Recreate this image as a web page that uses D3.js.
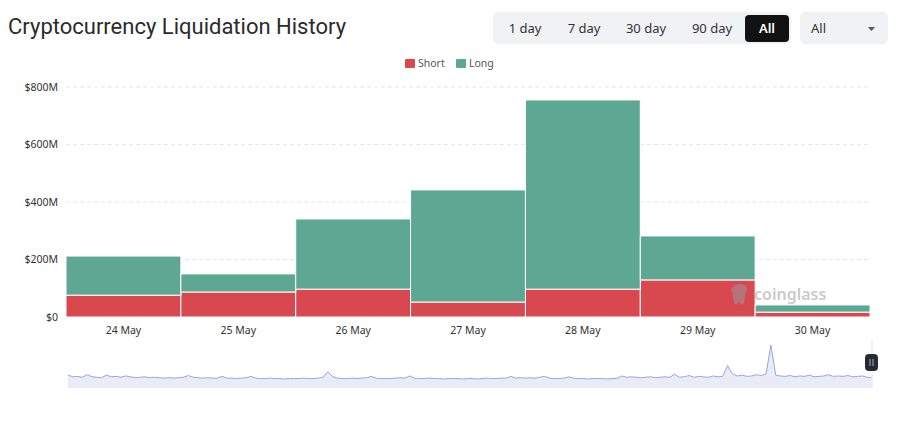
<!DOCTYPE html>
<html><head><meta charset="utf-8">
<script src="https://cdn.jsdelivr.net/npm/d3@7"></script>
<style>
html,body{margin:0;padding:0;background:#fff;}
svg{display:block;font-family:"Noto Sans","Open Sans",sans-serif;}
</style></head>
<body>
<svg id="c" width="900" height="425"></svg>
<script>
const categories = ["24 May","25 May","26 May","27 May","28 May","29 May","30 May"];
const shortValues = [76, 87, 97, 52, 97, 129, 17];   // $M
const longValues  = [136, 63, 244, 390, 658, 153, 25]; // $M (stacked on short)
const yTicks = [0, 200, 400, 600, 800];
const yTickLabels = ["$0","$200M","$400M","$600M","$800M"];
const rangeButtons = ["1 day","7 day","30 day","90 day","All"];
const legendItems = ["Short","Long"];
// hourly overview sparkline in the zoom slider (relative units)
const overview = [30,26,27,25,31,26,25,24,30,26,27,25,28,26,24,25,26,24,25,24,
23,24,23,24,25,29,25,24,23,24,23,23,27,23,23,22,23,24,27,23,
22,22,23,22,22,21,22,22,22,23,22,22,23,25,38,26,23,22,22,23,
22,23,24,27,23,22,22,22,23,24,23,28,23,22,22,23,22,22,21,22,
22,22,21,22,22,21,22,23,22,22,23,23,27,23,24,23,24,23,25,27,
23,22,22,23,26,23,22,22,21,22,22,22,21,22,22,28,25,26,25,24,
25,26,24,25,26,25,32,25,26,29,25,27,26,25,28,26,27,52,33,28,
30,27,28,31,29,33,100,30,28,27,29,26,28,27,30,26,27,28,31,27,
28,27,29,26,27,28,25,24];

const RED = "#d8494f", GREEN = "#5ea893";
const svg = d3.select("#c");

// Title
svg.append("text").attr("x",8).attr("y",34).attr("font-size",22).attr("fill","#2b2b2b")
  .attr("font-family","Roboto, sans-serif")
  .text("Cryptocurrency Liquidation History");

// Range buttons
const bg = svg.append("g");
bg.append("rect").attr("x",493).attr("y",12).attr("width",298).attr("height",32).attr("rx",5).attr("fill","#f1f2f4");
const btnCenters = [525, 584, 646, 712, 767];
bg.append("rect").attr("x",745).attr("y",15).attr("width",44).attr("height",27).attr("rx",4).attr("fill","#121212");
rangeButtons.forEach((b,i)=>{
  bg.append("text").attr("x",btnCenters[i]).attr("y",33).attr("text-anchor","middle")
    .attr("font-size",13).attr("fill", i===4 ? "#fff" : "#333").attr("font-weight", i===4?600:400).text(b);
});
bg.append("rect").attr("x",800).attr("y",12).attr("width",88).attr("height",32).attr("rx",5).attr("fill","#f1f2f4");
bg.append("text").attr("x",811).attr("y",33).attr("font-size",13).attr("fill","#333").text("All");
bg.append("path").attr("d","M868,27 L875,27 L871.5,31 Z").attr("fill","#555");

// Legend
const lg = svg.append("g");
[[405,RED,legendItems[0]],[456,GREEN,legendItems[1]]].forEach(([x,c,t])=>{
  lg.append("rect").attr("x",x).attr("y",59).attr("width",10).attr("height",9).attr("rx",1).attr("fill",c);
  lg.append("text").attr("x",x+13).attr("y",67).attr("font-size",10.5).attr("fill","#555").text(t);
});

// Scales
const x = d3.scaleBand().domain(categories).range([66,870]).padding(0);
const y = d3.scaleLinear().domain([0,800]).range([317,87]);

// Grid
svg.append("g").selectAll("line").data(yTicks.slice(1)).join("line")
  .attr("x1",66).attr("x2",870).attr("y1",d=>y(d)).attr("y2",d=>y(d))
  .attr("stroke","#e6e6e6").attr("stroke-dasharray","4,3");

// Y axis
const yAxis = d3.axisLeft(y).tickValues(yTicks).tickFormat((d,i)=>yTickLabels[i]).tickSize(0).tickPadding(8);
const ya = svg.append("g").attr("transform","translate(66,0)").call(yAxis);
ya.select(".domain").remove();
ya.selectAll("text").attr("font-size",10.5).attr("fill","#333").attr("font-family","Noto Sans, sans-serif");

// Bars
const data = categories.map((c,i)=>({c, s:shortValues[i], l:longValues[i]}));
const stack = d3.stack().keys(["s","l"])(data);
const colors = {s:RED, l:GREEN};
svg.append("g").selectAll("g").data(stack).join("g").attr("fill",d=>colors[d.key])
  .selectAll("rect").data(d=>d).join("rect")
  .attr("x",d=>x(d.data.c)).attr("width",x.bandwidth())
  .attr("y",d=>y(d[1])).attr("height",d=>y(d[0])-y(d[1]))
  .attr("stroke","#fff").attr("stroke-width",1);

// X axis
const xAxis = d3.axisBottom(x).tickSize(0).tickPadding(9);
const xa = svg.append("g").attr("transform","translate(0,318)").call(xAxis);
xa.select(".domain").remove();
xa.selectAll("text").attr("font-size",10.5).attr("fill","#333").attr("font-family","Noto Sans, sans-serif");

// Watermark
const wm = svg.append("g").attr("opacity",0.55);
wm.append("path").attr("d","M734,286 q6,-4 12,0 l1,4 q-2,3 -2,6 l-1,7 q-2,3 -4,0 l-1,-2 -1,2 q-2,3 -4,0 l-1,-7 q0,-3 -2,-6 z").attr("fill","#9a9a9a");
wm.append("text").attr("x",754).attr("y",300).attr("font-size",16).attr("font-weight",600).attr("fill","#a0a0a0").text("coinglass");

// Overview slider
const ox = d3.scaleLinear().domain([0, overview.length-1]).range([68,872]);
const oy = d3.scaleLinear().domain([0, d3.max(overview)]).range([388,345]);
svg.append("path").datum(overview)
  .attr("d", d3.area().x((d,i)=>ox(i)).y0(388).y1(d=>oy(d)))
  .attr("fill","#e9ebf7");
svg.append("path").datum(overview)
  .attr("d", d3.line().x((d,i)=>ox(i)).y(d=>oy(d)))
  .attr("fill","none").attr("stroke","#9aa6dc").attr("stroke-width",1);
svg.append("line").attr("x1",872).attr("x2",872).attr("y1",340).attr("y2",388).attr("stroke","#eceef5").attr("stroke-width",1.5);
svg.append("rect").attr("x",865).attr("y",354).attr("width",13).attr("height",17).attr("rx",4).attr("fill","#262a33");
svg.append("line").attr("x1",870).attr("x2",870).attr("y1",359).attr("y2",366).attr("stroke","#ccc").attr("stroke-width",0.8);
svg.append("line").attr("x1",873).attr("x2",873).attr("y1",359).attr("y2",366).attr("stroke","#ccc").attr("stroke-width",0.8);
</script>
</body></html>
